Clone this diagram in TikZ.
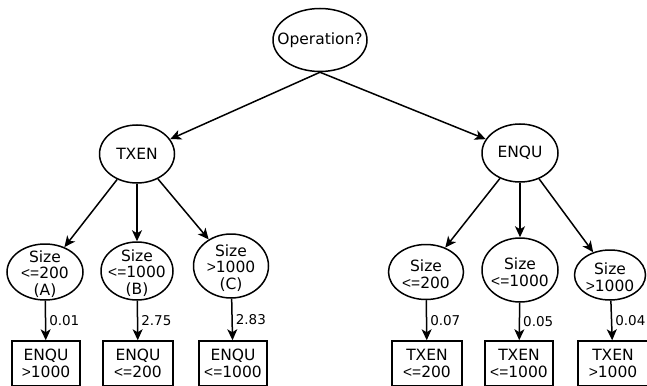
\documentclass[tikz,border=0pt]{standalone}
\usepackage{fontspec}
\setmainfont{DejaVu Sans}
\newfontfamily\relfont{Liberation Sans}
\newcommand{\lteq}{{\relfont<=}}
\newcommand{\gtr}{{\relfont>}}
\usetikzlibrary{shapes.geometric, arrows.meta, positioning}

\begin{document}
\begin{tikzpicture}
    [x=1pt, y=-1pt, >={Stealth[length=11pt, width=10pt, inset=3pt]}, line width=1.5pt,
    every node/.style={font=\fontsize{15.5}{16.8}\selectfont},
    cond/.style={label={[align=center, yshift=-2pt]center:{#1}}}]
    % Define styles for tests, leaves and weights
    \tikzstyle{test} = [draw, ellipse, inner sep=0pt]
    \tikzstyle{leaf} = [draw, rectangle, align=center, minimum height=45pt, inner sep=0pt]
    \tikzstyle{weight} = [right, midway, inner sep=3pt, font=\fontsize{13.5}{15}\selectfont]

    \useasboundingbox (0,0) rectangle (647,385);
    \clip (0,0) rectangle (647,385);

    % Nodes placement
    \node [test, minimum width=94pt, minimum height=63pt, label=center:Operation?] (op) at (320,40) {};
    \node [test, minimum width=75pt, minimum height=58pt, label=center:TXEN] (txen) at (137,154) {};
    \node [test, minimum width=76pt, minimum height=58pt, label=center:ENQU] (enqu) at (520,153) {};

    \node [test, minimum width=76pt, minimum height=56pt, cond={Size\\\lteq200\\(A)}] (sizeA) at (45,272) {};
    \node [test, minimum width=72pt, minimum height=58pt, cond={Size\\\lteq1000\\(B)}] (sizeB) at (137,271) {};
    \node [test, minimum width=75pt, minimum height=64pt, cond={Size\\\gtr1000\\(C)}] (sizeC) at (231,266) {};
    \node [test, minimum width=75pt, minimum height=55pt, cond={Size\\\lteq200}] (sizeD) at (426,272) {};
    \node [test, minimum width=76pt, minimum height=64pt, cond={Size\\\lteq1000}] (sizeE) at (520,270) {};
    \node [test, minimum width=71pt, minimum height=50pt, cond={Size\\\gtr1000}] (sizeF) at (610,275) {};

    \node [leaf, minimum width=68pt] (leafA) at (46,363.5) {ENQU\\\gtr1000};
    \node [leaf, minimum width=70pt] (leafB) at (138,363.5) {ENQU\\\lteq200};
    \node [leaf, minimum width=68pt] (leafC) at (233,363.5) {ENQU\\\lteq1000};
    \node [leaf, minimum width=70pt] (leafD) at (427,363.5) {TXEN\\\lteq200};
    \node [leaf, minimum width=68pt] (leafE) at (519,363.5) {TXEN\\\lteq1000};
    \node [leaf, minimum width=70pt] (leafF) at (613,363.5) {TXEN\\\gtr1000};

    % Draw edges
    \draw[->] (op.south) -- (txen);
    \draw[->] (op.south) -- (enqu);

    \draw[->] (txen) -- (sizeA);
    \draw[->] (txen) -- (sizeB);
    \draw[->] (txen) -- (sizeC);
    \draw[->] (enqu) -- (sizeD);
    \draw[->] (enqu) -- (sizeE);
    \draw[->] (enqu) -- (sizeF);

    % Weights on the leaf edges
    \draw[->] (sizeA) -- node[weight] {0.01} (leafA);
    \draw[->] (sizeB) -- node[weight] {2.75} (leafB);
    \draw[->] (sizeC) -- node[weight] {2.83} (leafC);
    \draw[->] (sizeD) -- node[weight] {0.07} (leafD);
    \draw[->] (sizeE) -- node[weight] {0.05} (leafE);
    \draw[->] (sizeF) -- node[weight] {0.04} (leafF);
\end{tikzpicture}
\end{document}
